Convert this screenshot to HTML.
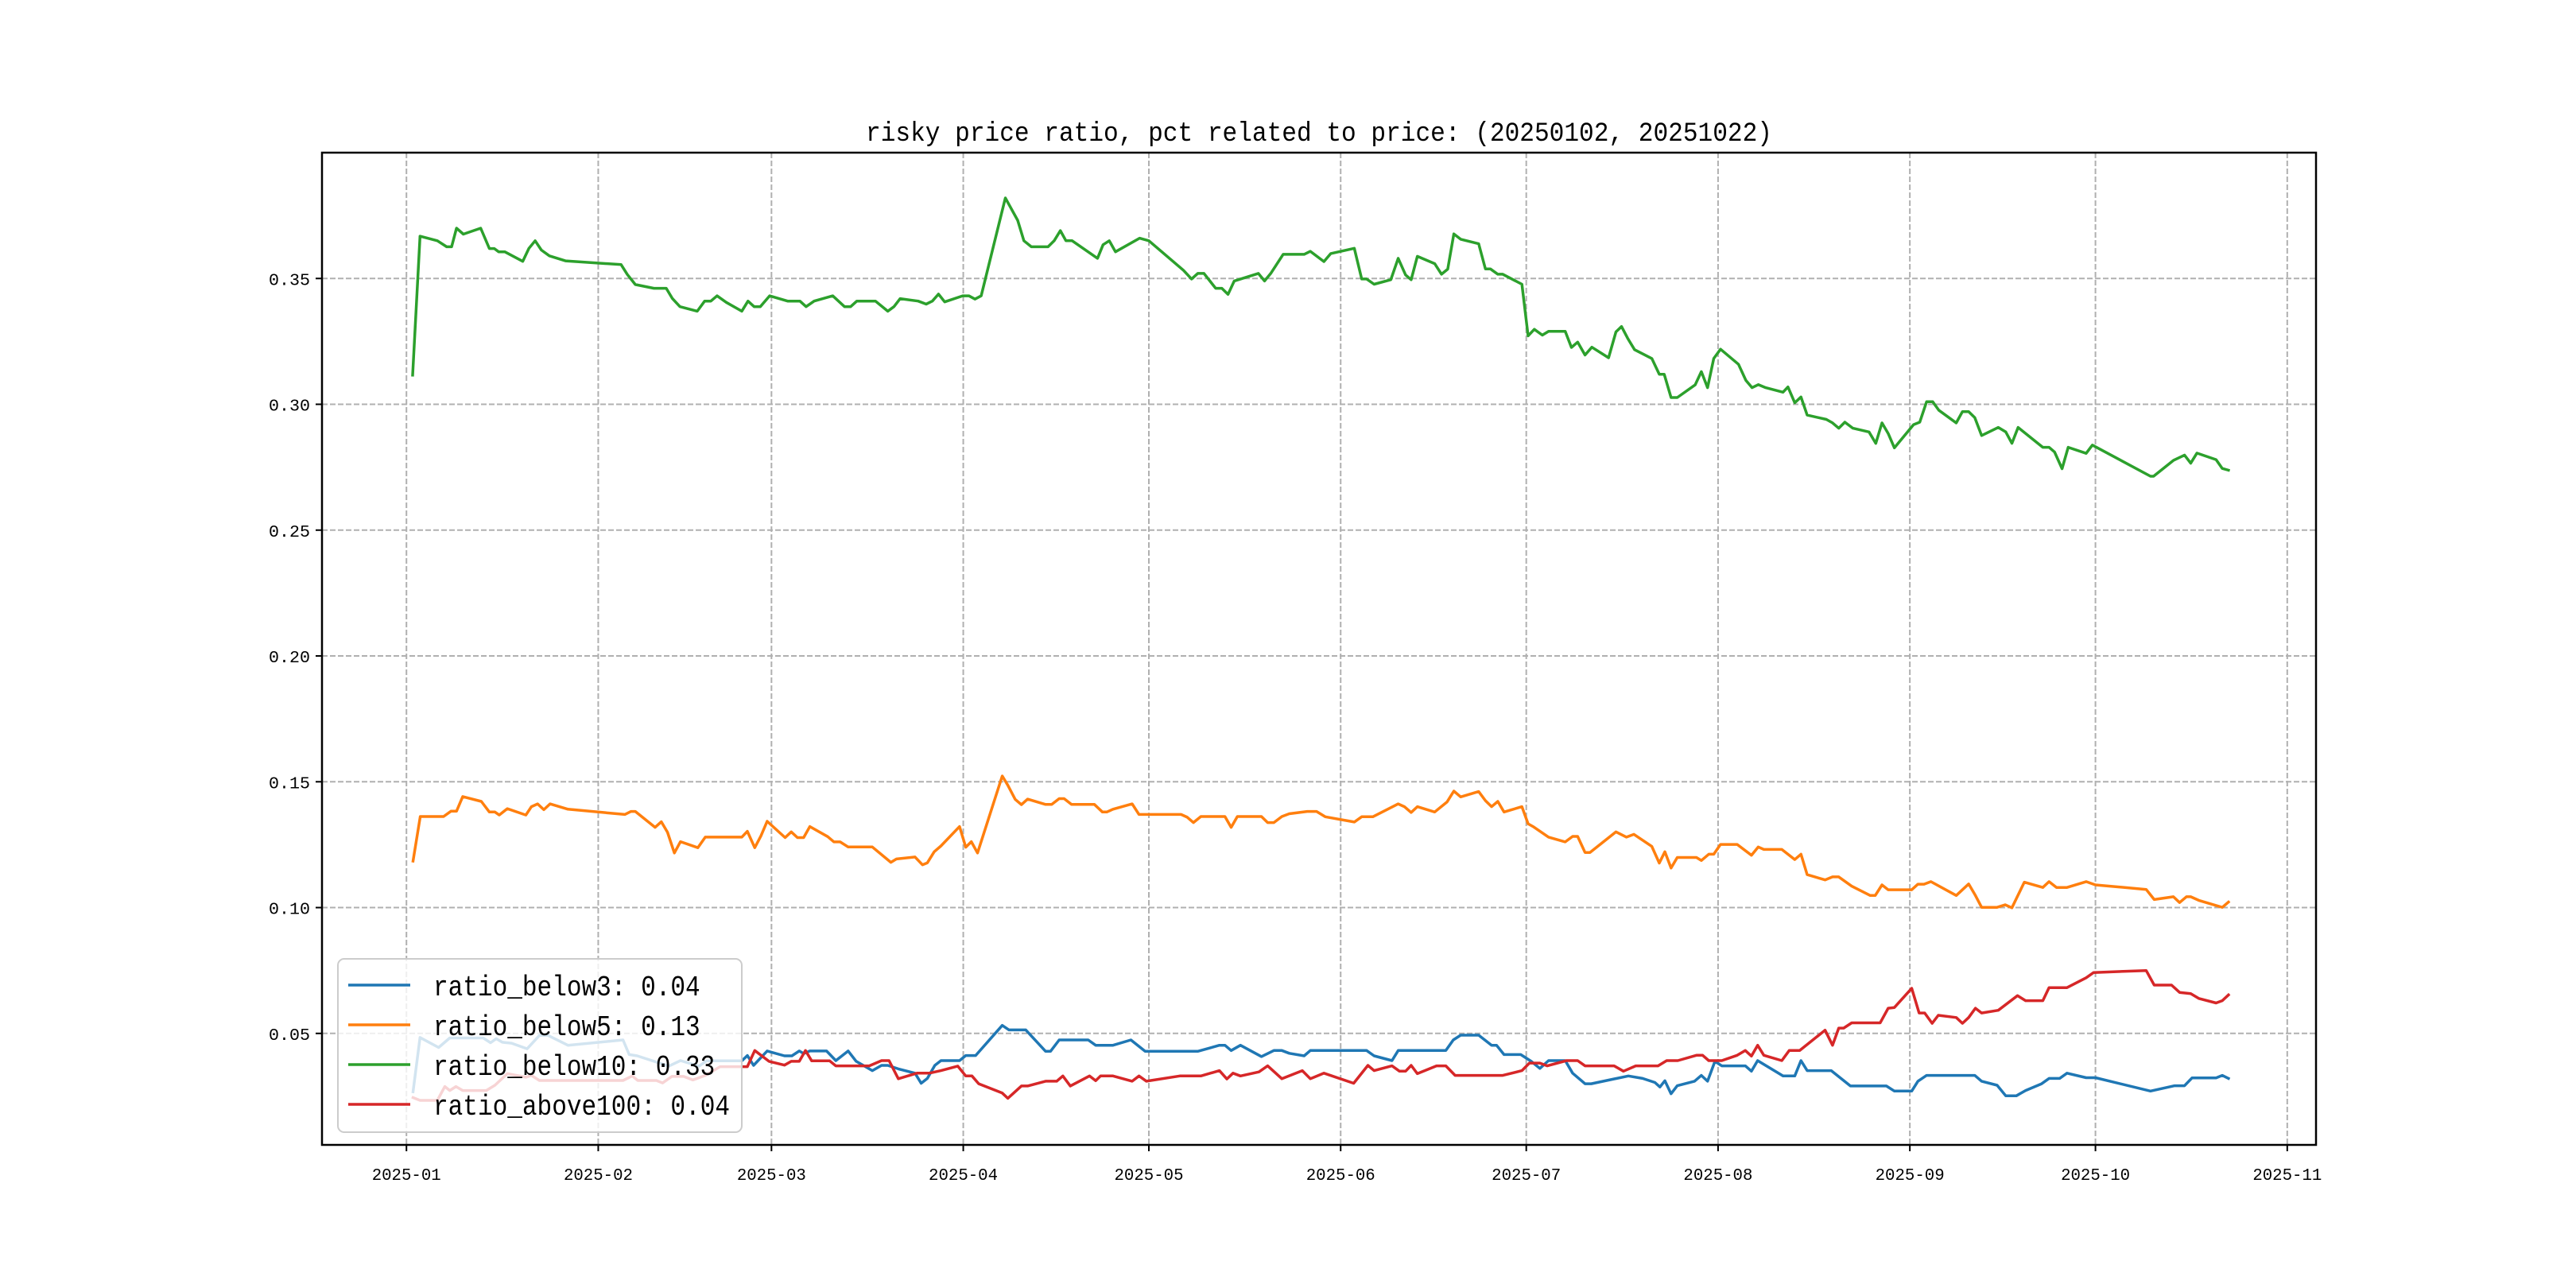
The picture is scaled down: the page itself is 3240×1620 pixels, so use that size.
<!DOCTYPE html>
<html><head><meta charset="utf-8"><style>
html,body{margin:0;padding:0;background:#fff;}
svg{display:block;}
</style></head><body>
<svg id="chart" xmlns="http://www.w3.org/2000/svg" width="3240" height="1620" viewBox="0 0 3240 1620">
<rect x="0" y="0" width="3240" height="1620" fill="#fff"/>
<text x="1659" y="177" font-family="'Liberation Mono', 'Noto Sans CJK SC', monospace" font-size="34" text-anchor="middle" textLength="1140" lengthAdjust="spacingAndGlyphs">risky price ratio, pct related to price: (20250102, 20251022)</text>
<g id="grid"></g>
<g id="series"></g>
<rect x="405" y="192" width="2508" height="1248" fill="none" stroke="#000" stroke-width="2.5"/>
<g id="ticks"></g>
<g id="legend"></g>
</svg>
<script>
const monthLabels = ["2025-01","2025-02","2025-03","2025-04","2025-05","2025-06","2025-07","2025-08","2025-09","2025-10","2025-11"];
const monthDays = [0,31,59,90,120,151,181,212,243,273,304];
const yTicks = [0.05,0.10,0.15,0.20,0.25,0.30,0.35];
const yTickLabels = ["0.05","0.10","0.15","0.20","0.25","0.30","0.35"];
const seriesNames = ["ratio_below3: 0.04","ratio_below5: 0.13","ratio_below10: 0.33","ratio_above100: 0.04"];
const seriesColors = ["#1f77b4","#ff7f0e","#2ca02c","#d62728"];

const bDays=[1.06,2.2,5.2,7,12.4,13.6,14.5,15.5,17,19.5,21.5,22.9,26.1,35,36,37.3,42.4,44.3,47.3,48.5,54.2,55.1,56.1,58.3,61.1,62.3,63.5,64.2,65.2,67.9,69.4,71.4,72.7,75.3,76.8,77.8,79.5,82.2,83.2,84.2,85.4,86.4,89.4,90.4,92,96.3,97.4,100.1,103.3,104.1,105.5,110.2,111.4,114.2,117.1,119.4,127.9,131.4,132.3,133.3,134.8,138.2,140.2,141.5,142.7,145.1,146.1,155.2,156.4,159.3,160.3,168,169.2,170.4,173.3,175.4,176.2,177.4,180.1,181.8,183.2,184.6,187.3,188.5,190.5,191.5,197.5,199.8,201.8,202.6,203.4,204.4,205.4,208.2,209.3,210.3,211.5,212.6,216.4,217.4,218.4,222.5,224.4,225.4,226.4,230.3,233.4,239.2,240.5,243.3,244.3,245.7,253.5,254.6,257.1,258.5,260.2,261.7,264.3,265.5,267.2,268.4,271.5,273,281.9,285.8,287.4,288.6,292.5,293.5,294.5];
const bVals=[0.0268,0.0484,0.0444,0.0482,0.0482,0.0463,0.0479,0.0465,0.0461,0.0439,0.0492,0.0492,0.0453,0.0474,0.0416,0.0411,0.037,0.0392,0.037,0.0391,0.0391,0.0412,0.0373,0.043,0.0411,0.0411,0.043,0.042,0.043,0.043,0.0392,0.043,0.0389,0.0352,0.0373,0.0373,0.0359,0.0342,0.0302,0.0321,0.0373,0.0392,0.0392,0.0412,0.0412,0.0532,0.0514,0.0514,0.0429,0.0429,0.0474,0.0474,0.0453,0.0453,0.0474,0.0429,0.0429,0.0453,0.0453,0.0432,0.0453,0.0408,0.0432,0.0432,0.0421,0.0411,0.0432,0.0432,0.0411,0.0392,0.0432,0.0432,0.0474,0.0493,0.0493,0.0453,0.0453,0.0416,0.0416,0.0389,0.0361,0.0392,0.0392,0.0342,0.03,0.03,0.0331,0.0321,0.0305,0.0287,0.0312,0.026,0.0292,0.031,0.0333,0.031,0.0389,0.0371,0.0371,0.035,0.0392,0.0331,0.0331,0.0392,0.0352,0.0352,0.0291,0.0291,0.0271,0.0271,0.031,0.0333,0.0333,0.031,0.0294,0.0252,0.0252,0.0273,0.03,0.0321,0.0321,0.0342,0.0324,0.0324,0.0271,0.0292,0.0292,0.0323,0.0323,0.0333,0.0321];

const oDays=[1.06,2.24,6,7.2,8.1,9.1,12.1,13.4,14.3,15,16.3,19.3,20.2,21.2,22.2,23.2,26.1,35.3,36.3,37,40.2,41.2,42.2,43.3,44.3,47.1,48.3,54.2,55.1,56.3,57.3,58.3,61.2,62.2,63.2,64.2,65.2,68.1,69.1,70.1,71.4,75.3,78.3,79.2,82.2,83.4,84.2,85.3,86.4,89.4,90.4,91.3,92.3,96.3,97.2,98.4,99.4,100.4,103.3,104.3,105.5,106.3,107.5,111.2,112.5,113.2,114.2,117.3,118.4,125.2,126.2,127.2,128.4,132.3,133.3,134.3,138.2,139.2,140.2,141.5,142.7,145.6,147.1,148.5,153.2,154.4,156.2,160.3,161.3,162.4,163.4,166.2,168.2,169.3,170.4,173.3,174.4,175.4,176.4,177.4,180.3,181.3,182.1,184.6,187.3,188.5,189.3,190.5,191.3,195.5,197.2,198.4,201.3,202.5,203.4,204.4,205.4,208.5,209.3,210.5,211.3,212.4,215.1,217.4,218.5,219.4,222.3,224.4,225.4,226.4,229.3,230.5,231.5,233.6,236.6,237.4,238.5,239.5,243.3,244.3,245.3,246.4,250.5,252.5,253.6,254.6,257.1,258.4,259.5,261.5,264.5,265.5,266.7,268.4,271.5,273,281.2,282.5,285.6,286.6,287.7,288.4,289.7,293.5,294.5];
const oVals=[0.1185,0.1362,0.1362,0.1383,0.1383,0.1441,0.1422,0.138,0.138,0.1368,0.1393,0.1368,0.1401,0.1412,0.1389,0.1412,0.1391,0.137,0.1382,0.1382,0.1319,0.1341,0.1299,0.1217,0.1262,0.1238,0.128,0.128,0.1303,0.1238,0.1285,0.1343,0.1278,0.1301,0.1278,0.1278,0.1322,0.1282,0.1261,0.1261,0.1241,0.1241,0.118,0.1193,0.1201,0.117,0.1178,0.1222,0.1245,0.1322,0.124,0.1262,0.1217,0.1523,0.1486,0.143,0.1409,0.1431,0.141,0.141,0.1433,0.1433,0.141,0.141,0.138,0.138,0.1391,0.1412,0.137,0.137,0.1359,0.1338,0.1362,0.1362,0.1319,0.1362,0.1362,0.1338,0.1338,0.1362,0.1373,0.1382,0.1382,0.1361,0.134,0.1361,0.1361,0.1412,0.1401,0.1378,0.1401,0.138,0.142,0.1463,0.144,0.1461,0.1425,0.1401,0.1422,0.138,0.1401,0.1333,0.1322,0.128,0.1261,0.1283,0.1283,0.1219,0.1219,0.1301,0.128,0.1291,0.1243,0.1177,0.1222,0.1157,0.1199,0.1199,0.1187,0.1212,0.1212,0.1251,0.1251,0.1208,0.1241,0.1231,0.1231,0.1191,0.1212,0.1131,0.111,0.1122,0.1122,0.1085,0.1048,0.1048,0.109,0.1071,0.1071,0.1093,0.1093,0.1103,0.1048,0.1094,0.1048,0.1001,0.1001,0.1011,0.0999,0.1101,0.108,0.1103,0.108,0.108,0.1103,0.109,0.1072,0.1032,0.1043,0.102,0.1043,0.1043,0.1029,0.1001,0.1022];

const gDays=[1,2.2,5,6.5,7.3,8.1,9.2,12,13.4,14.2,14.9,15.9,18.8,19.8,20.8,21.8,23.1,25.7,34.7,35.7,37,40,42,43,44.2,47,48.2,49.2,50.2,51.7,54.2,55.2,56.2,57.2,58.7,61.6,63.6,64.6,65.9,68.9,70.8,71.8,72.8,75.8,77.8,78.8,79.8,82.7,84,85,86,87,89.9,90.9,91.9,92.9,96.8,98.8,99.8,101,103.7,104.7,105.7,106.6,107.6,111.7,112.6,113.6,114.6,118.5,120,125.6,126.9,127.9,128.9,130.8,131.8,132.8,133.8,137.7,138.7,139.7,141.7,145.1,146.1,148.3,149.4,153.2,154.4,155.2,156.4,159.1,160.3,161.5,162.4,163.4,166.2,167.3,168.3,169.3,170.4,173.3,174.4,175.2,176.4,177.2,180.3,181.3,182.3,183.6,184.6,187.3,188.3,189.3,190.5,191.6,194.3,195.5,196.4,197.4,198.5,201.3,202.5,203.3,204.4,205.4,208.3,209.3,210.3,211.3,212.4,215.3,216.5,217.5,218.5,219.7,222.5,223.3,224.4,225.4,226.4,229.5,230.5,231.5,232.5,233.8,236.4,237.5,238.5,239.5,240.5,243.6,244.6,245.7,246.7,247.7,250.5,251.5,252.5,253.5,254.6,257.3,258.5,259.5,260.5,264.5,265.5,266.4,267.6,268.6,271.5,272.5,281.9,282.4,285.6,287.4,288.4,289.4,292.5,293.5,294.5];
const gVals=[0.3116,0.3668,0.365,0.3626,0.3626,0.37,0.3676,0.37,0.3619,0.3619,0.3606,0.3606,0.3568,0.362,0.365,0.3613,0.359,0.357,0.3555,0.3516,0.3476,0.3461,0.3461,0.342,0.3388,0.337,0.341,0.341,0.3431,0.3405,0.337,0.341,0.3388,0.3388,0.3431,0.341,0.341,0.3388,0.341,0.3431,0.3388,0.3388,0.341,0.341,0.337,0.3388,0.342,0.341,0.3398,0.341,0.3438,0.3407,0.3431,0.3431,0.3418,0.3431,0.382,0.3731,0.365,0.3626,0.3626,0.365,0.369,0.365,0.365,0.358,0.3634,0.365,0.3606,0.366,0.365,0.3532,0.3498,0.352,0.352,0.3461,0.3461,0.3437,0.349,0.352,0.349,0.352,0.3596,0.3596,0.3608,0.3567,0.3599,0.362,0.3498,0.3498,0.3477,0.3495,0.358,0.3514,0.3495,0.3588,0.3559,0.3517,0.3537,0.3677,0.3656,0.3638,0.3538,0.3538,0.3517,0.3517,0.3477,0.3272,0.3298,0.3275,0.329,0.329,0.3226,0.3247,0.3196,0.3227,0.3185,0.3288,0.3309,0.3262,0.3217,0.3182,0.3119,0.3119,0.3027,0.3027,0.3077,0.313,0.3066,0.3182,0.3219,0.3159,0.3095,0.3066,0.3078,0.3066,0.3048,0.3069,0.3006,0.3029,0.2957,0.294,0.2926,0.2905,0.2929,0.2905,0.289,0.2845,0.2926,0.2884,0.2827,0.2919,0.2929,0.301,0.301,0.2976,0.2926,0.2971,0.2971,0.2947,0.2876,0.2908,0.289,0.2845,0.2908,0.2829,0.2829,0.281,0.2744,0.2829,0.2805,0.2838,0.2714,0.2714,0.2777,0.2798,0.2766,0.2806,0.278,0.2745,0.2738];

const rDays=[1.06,2.2,5,6.2,7,8,9.1,12.9,14.3,16.3,19.3,20.2,21.5,35,36.5,37.4,40.4,41.4,42.9,44.8,46.3,48.3,50.7,55.1,56.3,58.6,61.1,62.2,63.5,64.5,65.5,68.4,69.4,74.8,76.8,78,79.5,82.5,84.5,86.4,89.1,90.4,91.4,92.5,96.3,97.2,99.4,100.4,103.3,105.1,106.1,107.3,110.4,111.4,112.2,114.2,117.3,118.4,119.6,125,128.4,131.4,132.6,133.6,134.8,137.8,139.2,141.5,144.8,146.1,148.3,153.1,155.4,156.4,159.3,160.5,161.5,162.4,163.4,166.5,168,169.5,177.2,180.3,181.5,183.2,184.4,187.5,189.3,190.5,195.2,196.7,198.7,202.3,203.7,205.5,208.5,209.5,210.5,212.6,215.1,216.4,217.4,218.4,219.4,222.3,223.5,225.2,229.3,230.5,231.5,232.3,233.6,238.2,239.5,240.5,243.3,244.5,245.4,246.6,247.6,250.5,251.5,252.5,253.6,254.6,257.3,260.4,261.7,264.5,265.5,268.4,271.5,272.7,281.2,282.5,285.3,286.6,288.4,289.7,292.5,293.5,294.5];
const rVals=[0.0245,0.0234,0.0234,0.0289,0.0273,0.0289,0.0273,0.0273,0.0294,0.034,0.0326,0.0333,0.0313,0.0313,0.0331,0.0313,0.0313,0.0303,0.0329,0.0329,0.0315,0.0333,0.0368,0.0368,0.0432,0.0389,0.0374,0.0389,0.0389,0.0432,0.0391,0.0391,0.0371,0.0371,0.0392,0.0392,0.032,0.0342,0.0342,0.0352,0.037,0.0331,0.0331,0.03,0.0263,0.0242,0.0291,0.0291,0.031,0.031,0.0331,0.0291,0.0331,0.0312,0.0331,0.0331,0.031,0.0331,0.031,0.0331,0.0331,0.0352,0.0319,0.0342,0.0331,0.0347,0.0371,0.032,0.0352,0.032,0.0342,0.0302,0.0373,0.0352,0.0371,0.035,0.035,0.0373,0.034,0.0371,0.0371,0.0333,0.0333,0.0352,0.0382,0.0382,0.0371,0.0392,0.0392,0.0371,0.0371,0.035,0.0371,0.0371,0.0392,0.0392,0.0413,0.0413,0.0392,0.0392,0.0413,0.0432,0.041,0.0453,0.0413,0.0392,0.0432,0.0432,0.0513,0.0453,0.0521,0.0521,0.0542,0.0542,0.06,0.0603,0.0679,0.0581,0.0581,0.054,0.0572,0.0563,0.054,0.0563,0.06,0.0581,0.0592,0.065,0.063,0.063,0.0682,0.0682,0.0721,0.0742,0.075,0.0692,0.0692,0.0663,0.0658,0.0639,0.0621,0.063,0.0653];

const NS = "http://www.w3.org/2000/svg";
const PL = 405, PR = 2913, PT = 192, PB = 1440;
const XMIN = -13.65, XMAX = 308.65, YMIN = 0.0057, YMAX = 0.400;
function xScale(d){ return PL + (d - XMIN) * (PR - PL) / (XMAX - XMIN); }
function yScale(v){ return PB - (v - YMIN) * (PB - PT) / (YMAX - YMIN); }
function mk(tag, attrs, parent){ const e = document.createElementNS(NS, tag); for (const k in attrs) e.setAttribute(k, attrs[k]); parent.appendChild(e); return e; }

const grid = document.getElementById('grid');
const ticks = document.getElementById('ticks');
monthDays.forEach((d, i) => {
  const x = xScale(d);
  const gl = mk('line', {x1:x, x2:x, y1:PT, y2:PB, stroke:'#b0b0b0', 'stroke-width':2, 'stroke-dasharray':'7,3'}, grid);
  
  
  const tk = mk('line', {x1:x, x2:x, y1:PB, y2:PB+8, stroke:'#000', 'stroke-width':2}, ticks);
  
  
  const t = mk('text', {x:x, y:PB+44, 'font-family':"'Liberation Mono', monospace", 'font-size':21, 'text-anchor':'middle', textLength:87, lengthAdjust:'spacingAndGlyphs'}, ticks);
  t.textContent = monthLabels[i];
  
  
});
yTicks.forEach((v, i) => {
  const y = yScale(v);
  const gl = mk('line', {x1:PL, x2:PR, y1:y, y2:y, stroke:'#b0b0b0', 'stroke-width':2, 'stroke-dasharray':'7,3'}, grid);
  
  
  const tk = mk('line', {x1:PL-8, x2:PL, y1:y, y2:y, stroke:'#000', 'stroke-width':2}, ticks);
  
  
  const t = mk('text', {x:PL-15, y:y+8, 'font-family':"'Liberation Mono', monospace", 'font-size':21, 'text-anchor':'end', textLength:52, lengthAdjust:'spacingAndGlyphs'}, ticks);
  t.textContent = yTickLabels[i];
  
  
});

const series = document.getElementById('series');
const allDays = [bDays, oDays, gDays, rDays];
const allVals = [bVals, oVals, gVals, rVals];
const lineNames = ['line-ratio-below3','line-ratio-below5','line-ratio-below10','line-ratio-above100'];
allDays.forEach((days, s) => {
  const vals = allVals[s];
  const n = Math.min(days.length, vals.length);
  let d = '';
  for (let i = 0; i < n; i++) d += (i ? 'L' : 'M') + xScale(days[i]).toFixed(1) + ',' + yScale(vals[i]).toFixed(1);
  const p = mk('path', {d:d, fill:'none', stroke:seriesColors[s], 'stroke-width':3.5, 'stroke-linejoin':'round', 'stroke-linecap':'square'}, series);
  
  
});

const legend = document.getElementById('legend');
const box = mk('rect', {x:425, y:1206, width:508, height:218, rx:8, fill:'#fff', 'fill-opacity':0.8, stroke:'#cccccc', 'stroke-width':2}, legend);


const rowY = [1239, 1289, 1339, 1389];
seriesNames.forEach((name, i) => {
  const h = mk('line', {x1:438, x2:516, y1:rowY[i], y2:rowY[i], stroke:seriesColors[i], 'stroke-width':3.5}, legend);
  
  
  const t = mk('text', {x:545, y:rowY[i]+13, 'font-family':"'Liberation Mono', monospace", 'font-size':36, textLength:(name.length*18.65).toFixed(1), lengthAdjust:'spacingAndGlyphs'}, legend);
  t.textContent = name;
  
  
});
</script>
</body></html>
